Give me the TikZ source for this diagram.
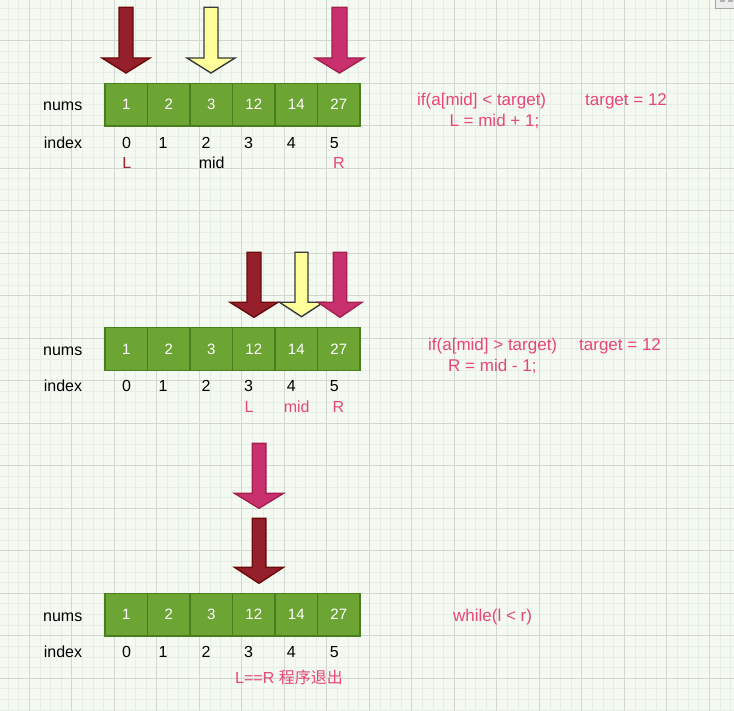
\documentclass[tikz,border=0pt]{standalone}
\usepackage{fontspec}
\setmainfont{Liberation Sans}
\newfontfamily\cjk{Noto Sans CJK SC}
\definecolor{bgc}{HTML}{F4F9F1}
\definecolor{gminor}{HTML}{E7EEE5}
\definecolor{gmajor}{HTML}{D2D7D0}
\definecolor{cellfill}{HTML}{6DA535}
\definecolor{celldraw}{HTML}{4A7D1E}
\definecolor{dred}{HTML}{951F2B}
\definecolor{dredline}{HTML}{6B0A0A}
\definecolor{yel}{HTML}{FFFF99}
\definecolor{yelline}{HTML}{36393D}
\definecolor{pnk}{HTML}{C8306E}
\definecolor{pnkline}{HTML}{A3204F}
\definecolor{ptext}{HTML}{E8457A}
\definecolor{rtext}{HTML}{A3232A}
\newcommand\blockarrow[7]{%
  \draw[#1] ({#2-#6},-#3) -- ({#2+#6},-#3) -- ({#2+#6},-#4) -- ({#2+#7},-#4)
    -- (#2,-#5) -- ({#2-#7},-#4) -- ({#2-#6},-#4) -- cycle;}
\tikzset{
  minorl/.style={gminor, line width=0.8pt},
  majorl/.style={gmajor, line width=0.9pt},
  cell/.style={draw=celldraw, fill=cellfill, line width=1.2pt, minimum width=42.5pt,
    minimum height=42.7pt, inner sep=0pt, text=white, font=\fontsize{15}{18}\selectfont},
  lbl/.style={inner sep=0pt, anchor=base, font=\fontsize{16}{19}\selectfont},
  code/.style={inner sep=0pt, anchor=base west, text=ptext, font=\fontsize{17}{20}\selectfont},
  darr/.style={fill=dred, draw=dredline, line width=1.4pt, line join=miter},
  yarr/.style={fill=yel, draw=yelline, line width=1.4pt, line join=miter},
  parr/.style={fill=pnk, draw=pnkline, line width=1.4pt, line join=miter},
}
\begin{document}
\begin{tikzpicture}[x=1pt,y=1pt]
\useasboundingbox (0,0) rectangle (734,-711);
\clip (0,0) rectangle (734,-711);
\fill[bgc] (0,0) rectangle (734,-711);
% grid
\foreach \i in {-3,...,67} {
  \draw[minorl] ({29.3+10.625*\i},0) -- ({29.3+10.625*\i},-711);
  \draw[minorl] (0,{1.8-10.625*\i}) -- (734,{1.8-10.625*\i});
}
\foreach \i in {-1,...,17} {
  \draw[majorl] ({29.3+42.5*\i},0) -- ({29.3+42.5*\i},-711);
  \draw[majorl] (0,{1.8-42.5*\i}) -- (734,{1.8-42.5*\i});
}
% corner widget
\draw[fill=gray!15, draw=gray!70, line width=0.8pt] (715,1) rectangle (735,-8.5);
\fill[gray!60] (720,0) rectangle (725,-2.5);
\fill[gray!60] (728,0) rectangle (733,-2.5);

% ---------- row 1 ----------
\foreach \v [count=\k from 0] in {1,2,3,12,14,27}
  \node[cell] (a\k) at ({126.25+42.5*\k},-104.7) {\v};
\node[lbl] (n1) at (62.7,-111) {nums};
\node[lbl] (i1) at (63,-148.3) {index};
\foreach \x [count=\k from 0] in {126.5,163,206,248.5,291.3,334.3}
  \node[lbl] (ai\k) at (\x,-148.3) {\k};
\node[lbl, text=rtext] (aL) at (126.7,-168.3) {L};
\node[lbl] (aM) at (211.7,-168.3) {mid};
\node[lbl, text=ptext] (aR) at (339,-168.3) {R};
\blockarrow{darr}{126}{7.3}{58}{73}{7}{24}
\blockarrow{yarr}{211}{7.3}{58}{73}{7}{24}
\blockarrow{parr}{339.5}{7.3}{58}{73}{7.5}{24.5}
\node[code] (c1) at (417,-106) {if(a[mid] < target)};
\node[code] (t1) at (585,-106) {target = 12};
\node[code] (s1) at (449.3,-126.7) {L = mid + 1;};

% ---------- row 2 ----------
\foreach \v [count=\k from 0] in {1,2,3,12,14,27}
  \node[cell] (b\k) at ({126.25+42.5*\k},-349) {\v};
\node[lbl] (n2) at (62.7,-355.3) {nums};
\node[lbl] (i2) at (63,-391.7) {index};
\foreach \x [count=\k from 0] in {126.5,163,206,248.5,291.3,334.3}
  \node[lbl] (bi\k) at (\x,-391.7) {\k};
\node[lbl, text=ptext] (bL) at (249,-412.7) {L};
\node[lbl, text=ptext] (bM) at (296.7,-412.7) {mid};
\node[lbl, text=ptext] (bR) at (338.5,-412.7) {R};
\blockarrow{darr}{254}{252.3}{302.3}{317.3}{7}{24}
\blockarrow{yarr}{301.5}{252.3}{302.3}{316.7}{6.5}{22}
\blockarrow{parr}{340}{252.3}{302.3}{317.3}{6.7}{22}
\node[code] (c2) at (428,-351) {if(a[mid] > target)};
\node[code] (t2) at (579,-351) {target = 12};
\node[code] (s2) at (448,-372) {R = mid - 1;};

% ---------- row 3 ----------
\foreach \v [count=\k from 0] in {1,2,3,12,14,27}
  \node[cell] (d\k) at ({126.25+42.5*\k},-614.7) {\v};
\node[lbl] (n3) at (62.7,-621) {nums};
\node[lbl] (i3) at (63,-657.7) {index};
\foreach \x [count=\k from 0] in {126.5,163,206,248.5,291.3,334.3}
  \node[lbl] (di\k) at (\x,-657.7) {\k};
\node[lbl, text=ptext] (dLR) at (289,-683.3) {L==R {\cjk 程序退出}};
\blockarrow{parr}{259}{443.3}{493.3}{508.3}{6.8}{24.5}
\blockarrow{darr}{259}{518.3}{567.3}{583.3}{6.8}{24.5}
\node[code] (w3) at (453,-621.5) {while(l < r)};
\end{tikzpicture}
\end{document}
